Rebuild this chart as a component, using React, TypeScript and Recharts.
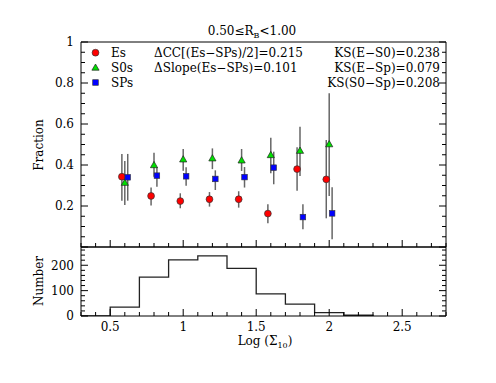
import React from 'react';
import { ComposedChart, Scatter, XAxis, YAxis, ErrorBar, Line } from 'recharts';

const FONT = '"DejaVu Serif", serif';

// Bin centres of log(Sigma_10)
const binCenters = [0.6, 0.8, 1.0, 1.2, 1.4, 1.6, 1.8, 2.0];

// Es (red circles)
const esFrac = [0.343, 0.249, 0.224, 0.233, 0.233, 0.163, 0.38, 0.33];
const esLow = [0.226, 0.203, 0.189, 0.197, 0.192, 0.116, 0.275, 0.14];
const esHigh = [0.454, 0.29, 0.262, 0.268, 0.272, 0.208, 0.486, 0.522];

// S0s (green triangles)
const s0Frac = [0.314, 0.4, 0.428, 0.433, 0.423, 0.449, 0.47, 0.502];
const s0Low = [0.205, 0.343, 0.372, 0.38, 0.371, 0.36, 0.346, 0.249];
const s0High = [0.42, 0.46, 0.478, 0.481, 0.478, 0.533, 0.587, 0.75];

// SPs (blue squares)
const spFrac = [0.34, 0.348, 0.345, 0.332, 0.341, 0.387, 0.146, 0.164];
const spLow = [0.226, 0.294, 0.299, 0.278, 0.29, 0.306, 0.086, 0.038];
const spHigh = [0.454, 0.39, 0.389, 0.374, 0.39, 0.465, 0.208, 0.291];

// Histogram (bin left edges and counts)
const histEdges = [0.3, 0.5, 0.7, 0.9, 1.1, 1.3, 1.5, 1.7, 1.9, 2.1, 2.3];
const histCounts = [0, 35, 153, 221, 237, 188, 87, 47, 13, 3, 0];

// Tick labels
const xTickLabels = [0.5, 1, 1.5, 2, 2.5];
const fracTickLabels = [0.2, 0.4, 0.6, 0.8, 1];
const fracMajor = [0, 0.2, 0.4, 0.6, 0.8, 1];
const countTickLabels = [0, 100, 200];

const xMinor = Array.from({ length: 26 }, (_, i) => +(0.3 + i * 0.1).toFixed(2));
const fracMinor = Array.from({ length: 21 }, (_, i) => +(i * 0.05).toFixed(2));
const countMinor = Array.from({ length: 14 }, (_, i) => i * 20);

const X_DOMAIN: [number, number] = [0.3, 2.8];

const build = (fr: number[], lo: number[], hi: number[], off: number) =>
  binCenters.map((c, i) => ({
    x: +(c + off).toFixed(3),
    y: fr[i],
    err: [fr[i] - lo[i], hi[i] - fr[i]],
  }));

const esData = build(esFrac, esLow, esHigh, -0.02);
const s0Data = build(s0Frac, s0Low, s0High, 0);
const spData = build(spFrac, spLow, spHigh, 0.02);
const histData = histEdges.map((x, i) => ({ x, y: histCounts[i] }));

const isIn = (arr: number[], v: number) => arr.some((m) => Math.abs(m - v) < 1e-6);

type Side = 'bottom' | 'top' | 'left' | 'right';
const tickFactory = (side: Side, majors: number[], labels: number[] | null, majorLen = 7, minorLen = 4) =>
  (p: any) => {
    const { x, y, payload } = p;
    const v = payload.value;
    const len = isIn(majors, v) ? majorLen : minorLen;
    const show = labels && isIn(labels, v);
    let line: React.ReactNode = null;
    let label: React.ReactNode = null;
    if (side === 'bottom') {
      line = <line x1={x} y1={y} x2={x} y2={y - len} stroke="#000" strokeWidth={1} />;
      if (show)
        label = (
          <text x={x} y={y + 14.5} textAnchor="middle" fontSize={12} fontFamily={FONT} fill="#000">
            {String(v)}
          </text>
        );
    } else if (side === 'top') {
      line = <line x1={x} y1={y} x2={x} y2={y + len} stroke="#000" strokeWidth={1} />;
    } else if (side === 'left') {
      line = <line x1={x} y1={y} x2={x + len} y2={y} stroke="#000" strokeWidth={1} />;
      if (show)
        label = (
          <text x={x - 7} y={y + 4.4} textAnchor="end" fontSize={12} fontFamily={FONT} fill="#000">
            {String(v)}
          </text>
        );
    } else {
      line = <line x1={x} y1={y} x2={x - len} y2={y} stroke="#000" strokeWidth={1} />;
    }
    return (
      <g>
        {line}
        {label}
      </g>
    );
  };

const RedCircle = (p: any) => (
  <circle cx={p.cx} cy={p.cy} r={3.4} fill="#ff0000" stroke="#333" strokeWidth={0.7} />
);
const GreenTri = (p: any) => {
  const s = 3.6;
  return (
    <path
      d={`M${p.cx},${p.cy - s} L${p.cx + s},${p.cy + s * 0.75} L${p.cx - s},${p.cy + s * 0.75} Z`}
      fill="#00e000"
      stroke="#222"
      strokeWidth={0.7}
    />
  );
};
const BlueSq = (p: any) => (
  <rect x={p.cx - 2.8} y={p.cy - 2.8} width={5.6} height={5.6} fill="#0000ff" stroke="#333" strokeWidth={0.6} />
);

const axisLine = { stroke: '#000', strokeWidth: 1 };
const ERR = '#666';

export default function App() {
  return (
    <div style={{ position: 'relative', width: 496, height: 383, background: '#fff', fontFamily: FONT }}>
      <style>{'body{margin:0}'}</style>
      {/* Top panel */}
      <div style={{ position: 'absolute', left: 0, top: 0 }}>
        <ComposedChart width={496} height={250} margin={{ top: 0, right: 0, bottom: 0, left: 0 }}>
          <XAxis
            xAxisId="b"
            dataKey="x"
            type="number"
            domain={X_DOMAIN}
            allowDataOverflow
            ticks={xMinor}
            interval={0}
            height={3}
            tickSize={0}
            tickMargin={0}
            axisLine={axisLine}
            tickLine={false}
            tick={tickFactory('bottom', xTickLabels, null, 7, 4)}
          />
          <XAxis
            xAxisId="t"
            orientation="top"
            type="number"
            domain={X_DOMAIN}
            allowDataOverflow
            ticks={xMinor}
            interval={0}
            height={42}
            tickSize={0}
            tickMargin={0}
            axisLine={axisLine}
            tickLine={false}
            tick={tickFactory('top', xTickLabels, null, 7, 4)}
          />
          <YAxis
            yAxisId="l"
            dataKey="y"
            type="number"
            domain={[0, 1]}
            allowDataOverflow
            ticks={fracMinor}
            interval={0}
            width={81}
            tickSize={0}
            tickMargin={0}
            axisLine={axisLine}
            tickLine={false}
            tick={tickFactory('left', fracMajor, fracTickLabels, 7, 4)}
          />
          <YAxis
            yAxisId="r"
            orientation="right"
            type="number"
            domain={[0, 1]}
            allowDataOverflow
            ticks={fracMinor}
            interval={0}
            width={50}
            tickSize={0}
            tickMargin={0}
            axisLine={axisLine}
            tickLine={false}
            tick={tickFactory('right', fracMajor, null, 7, 4)}
          />
          <Scatter xAxisId="b" yAxisId="l" data={esData} dataKey="y" shape={RedCircle} isAnimationActive={false}>
            <ErrorBar dataKey="err" direction="y" width={0} stroke={ERR} strokeWidth={1.5} isAnimationActive={false} />
          </Scatter>
          <Scatter xAxisId="b" yAxisId="l" data={s0Data} dataKey="y" shape={GreenTri} isAnimationActive={false}>
            <ErrorBar dataKey="err" direction="y" width={0} stroke={ERR} strokeWidth={1.5} isAnimationActive={false} />
          </Scatter>
          <Scatter xAxisId="b" yAxisId="l" data={spData} dataKey="y" shape={BlueSq} isAnimationActive={false}>
            <ErrorBar dataKey="err" direction="y" width={0} stroke={ERR} strokeWidth={1.5} isAnimationActive={false} />
          </Scatter>
        </ComposedChart>
      </div>

      {/* Bottom panel */}
      <div style={{ position: 'absolute', left: 0, top: 240 }}>
        <ComposedChart width={496} height={143} margin={{ top: 0, right: 0, bottom: 0, left: 0 }}>
          <XAxis
            xAxisId="b"
            dataKey="x"
            type="number"
            domain={X_DOMAIN}
            allowDataOverflow
            ticks={xMinor}
            interval={0}
            height={67}
            tickSize={0}
            tickMargin={0}
            axisLine={axisLine}
            tickLine={false}
            tick={tickFactory('bottom', xTickLabels, xTickLabels, 7, 4)}
          />
          <XAxis
            xAxisId="t"
            orientation="top"
            type="number"
            domain={X_DOMAIN}
            allowDataOverflow
            ticks={xMinor}
            interval={0}
            height={7}
            tickSize={0}
            tickMargin={0}
            axisLine={axisLine}
            tickLine={false}
            tick={tickFactory('top', xTickLabels, null, 7, 4)}
          />
          <YAxis
            yAxisId="l"
            dataKey="y"
            type="number"
            domain={[0, 272]}
            allowDataOverflow
            ticks={countMinor}
            interval={0}
            width={81}
            tickSize={0}
            tickMargin={0}
            axisLine={axisLine}
            tickLine={false}
            tick={tickFactory('left', countTickLabels, countTickLabels, 7, 4)}
          />
          <YAxis
            yAxisId="r"
            orientation="right"
            type="number"
            domain={[0, 272]}
            allowDataOverflow
            ticks={countMinor}
            interval={0}
            width={50}
            tickSize={0}
            tickMargin={0}
            axisLine={axisLine}
            tickLine={false}
            tick={tickFactory('right', countTickLabels, null, 7, 4)}
          />
          <Line
            xAxisId="b"
            yAxisId="l"
            data={histData}
            dataKey="y"
            type="stepAfter"
            dot={false}
            stroke="#222"
            strokeWidth={1.3}
            isAnimationActive={false}
          />
        </ComposedChart>
      </div>

      {/* Annotations */}
      <svg
        width={496}
        height={383}
        style={{ position: 'absolute', left: 0, top: 0, pointerEvents: 'none' }}
        fontFamily={FONT}
        fontSize={12}
      >
        <text x={252} y={35} textAnchor="middle" fill="#000">
          0.50≤R<tspan fontSize={8} dy={3}>B</tspan>
          <tspan dy={-3}>&lt;1.00</tspan>
        </text>

        {/* legend */}
        <circle cx={95.5} cy={52.7} r={3.4} fill="#ff0000" stroke="#333" strokeWidth={0.7} />
        <path d="M95.5,64 L99.1,70.2 L91.9,70.2 Z" fill="#00e000" stroke="#222" strokeWidth={0.7} />
        <rect x={92.7} y={79.7} width={5.6} height={5.6} fill="#0000ff" stroke="#333" strokeWidth={0.6} />
        <text x={111} y={57} fill="#000">Es</text>
        <text x={111} y={72} fill="#000">S0s</text>
        <text x={111} y={87} fill="#000">SPs</text>

        <text x={154} y={57} fill="#000">ΔCC[(Es−SPs)/2]=0.215</text>
        <text x={154} y={72} fill="#000">ΔSlope(Es−SPs)=0.101</text>

        <text x={440} y={57} textAnchor="end" fill="#000">KS(E−S0)=0.238</text>
        <text x={440} y={72} textAnchor="end" fill="#000">KS(E−Sp)=0.079</text>
        <text x={440} y={87} textAnchor="end" fill="#000">KS(S0−Sp)=0.208</text>

        <text x={42.5} y={145} textAnchor="middle" transform="rotate(-90 42.5 145)" fill="#000">
          Fraction
        </text>
        <text x={42.5} y={281} textAnchor="middle" transform="rotate(-90 42.5 281)" fill="#000">
          Number
        </text>
        <text x={265} y={345} textAnchor="middle" fill="#000">
          Log (Σ<tspan fontSize={8} dy={3}>10</tspan>
          <tspan dy={-3}>)</tspan>
        </text>
      </svg>
    </div>
  );
}
